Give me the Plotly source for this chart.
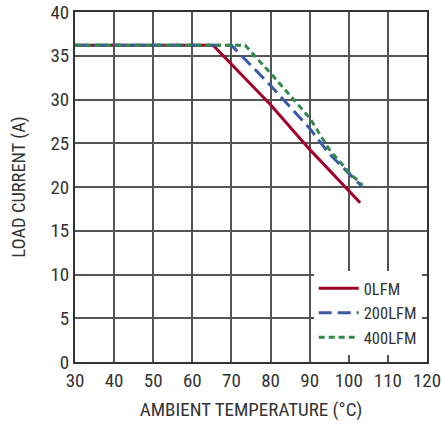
import plotly.graph_objects as go

x_0lfm = [30, 65.3, 80, 90, 102.9]
y_0lfm = [36.2, 36.2, 29.4, 24.3, 18.2]

x_200lfm = [30, 70, 80, 90, 95, 100, 103.3]
y_200lfm = [36.2, 36.2, 31.6, 26.7, 23.8, 21.5, 20.1]

x_400lfm = [30, 73.5, 80, 90, 95, 100, 103.5]
y_400lfm = [36.2, 36.2, 33.0, 27.9, 24.3, 21.7, 20.2]

font_family = "Liberation Sans Narrow, Roboto Condensed, Arial Narrow, Liberation Sans, sans-serif"

fig = go.Figure()
fig.add_trace(go.Scatter(x=x_0lfm, y=y_0lfm, mode="lines", name="0LFM",
                         line=dict(color="#a0002a", width=3)))
fig.add_trace(go.Scatter(x=x_200lfm, y=y_200lfm, mode="lines", name="200LFM",
                         line=dict(color="#3a5aa8", width=3, dash="13px,6px")))
fig.add_trace(go.Scatter(x=x_400lfm, y=y_400lfm, mode="lines", name="400LFM",
                         line=dict(color="#2e8a4a", width=3, dash="6px,4px")))

fig.update_layout(
    width=443, height=424,
    margin=dict(l=75, r=16, t=12, b=62, autoexpand=False),
    paper_bgcolor="white", plot_bgcolor="white",
    font=dict(family=font_family, size=19, color="#333333"),
    showlegend=True,
    legend=dict(x=0.985, y=0.02, xanchor="right", yanchor="bottom",
                bgcolor="white", borderwidth=0,
                font=dict(size=16.5, color="#333333"),
                tracegroupgap=0, itemwidth=40),
    xaxis=dict(range=[30, 120], dtick=10, tick0=30, automargin=False,
               showgrid=True, gridcolor="#555555", gridwidth=1.5,
               showline=True, linecolor="#333333", linewidth=2, mirror=True,
               zeroline=False, ticks="",
               title=dict(text="AMBIENT TEMPERATURE (°C)", font=dict(size=19, color="#333333"), standoff=12)),
    yaxis=dict(range=[0, 40], dtick=5, tick0=0, automargin=False,
               showgrid=True, gridcolor="#555555", gridwidth=1.5,
               showline=True, linecolor="#333333", linewidth=2, mirror=True,
               zeroline=False, ticks="",
               title=dict(text="LOAD CURRENT (A)", font=dict(size=18.5, color="#333333"), standoff=20)),
)

fig.write_html("out.html", config={"displayModeBar": False},
               post_script="document.body.style.margin='0';")
